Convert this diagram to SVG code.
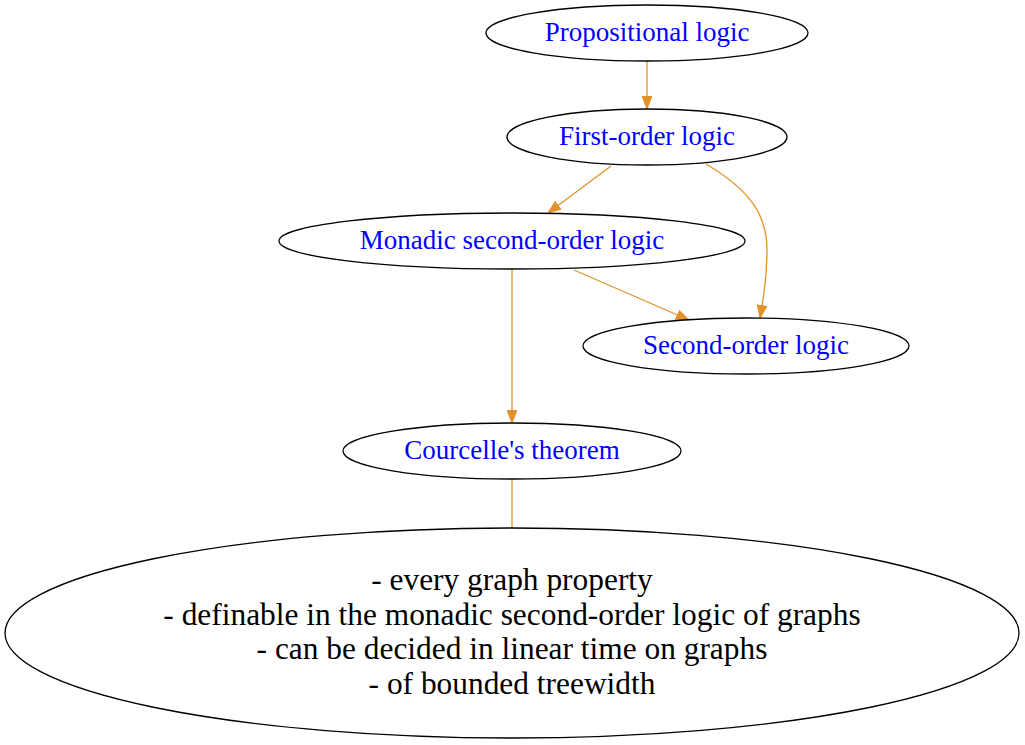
<svg xmlns="http://www.w3.org/2000/svg" width="1025" height="745" viewBox="0 0 1025 745">
<style>
.node ellipse{fill:none;stroke:#000;stroke-width:1.3}
.lbl{font-family:"Liberation Serif","Times New Roman",serif;font-size:27px;fill:#0000ff;text-anchor:middle}
.big{font-family:"Liberation Serif","Times New Roman",serif;font-size:31.4px;fill:#000;text-anchor:middle}
.edges path{fill:none;stroke:#e3922a;stroke-width:1.3}
</style>
<defs>
<marker id="ah" viewBox="0 0 13 10" refX="13" refY="5" markerWidth="13" markerHeight="10" markerUnits="userSpaceOnUse" orient="auto">
<path d="M0,0 L13,5 L0,10 z" fill="#e3922a" stroke="#e3922a" stroke-width="1"/>
</marker>
</defs>
<rect width="1025" height="745" fill="#fff"/>
<g class="edges">
<path d="M647,61 L647,109" marker-end="url(#ah)"/>
<path d="M611,166 L548,213" marker-end="url(#ah)"/>
<path d="M706,164 C750,190 767,215 767,250 C767,280 763,300 760,318" marker-end="url(#ah)"/>
<path d="M574,270 L689,320" marker-end="url(#ah)"/>
<path d="M512,270 L512,423" marker-end="url(#ah)"/>
<path d="M512,479 L512,528"/>
</g>
<g id="propositional" class="node"><ellipse cx="647" cy="33" rx="161" ry="28"/><text class="lbl" x="647" y="41">Propositional logic</text></g>
<g id="firstorder" class="node"><ellipse cx="647" cy="137" rx="140" ry="28"/><text class="lbl" x="647" y="145">First-order logic</text></g>
<g id="monadic" class="node"><ellipse cx="512" cy="241" rx="233" ry="28"/><text class="lbl" x="512" y="249">Monadic second-order logic</text></g>
<g id="secondorder" class="node"><ellipse cx="746" cy="346" rx="163" ry="28"/><text class="lbl" x="746" y="354">Second-order logic</text></g>
<g id="courcelle" class="node"><ellipse cx="512" cy="451" rx="169" ry="28"/><text class="lbl" x="512" y="459">Courcelle's theorem</text></g>
<g id="statement" class="node"><ellipse cx="512" cy="633" rx="507" ry="105"/>
<text class="big" x="512" y="590">- every graph property</text>
<text class="big" x="512" y="625">- definable in the monadic second-order logic of graphs</text>
<text class="big" x="512" y="659">- can be decided in linear time on graphs</text>
<text class="big" x="512" y="694">- of bounded treewidth</text>
</g>
</svg>
